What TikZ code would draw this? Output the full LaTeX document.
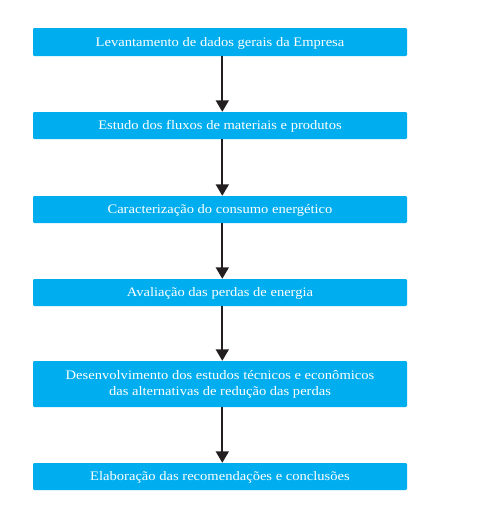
\documentclass[tikz,border=0pt]{standalone}
\usepackage{fontspec}
\setmainfont[FakeStretch=1.12]{Liberation Serif}
\usetikzlibrary{arrows.meta}
\definecolor{boxblue}{HTML}{00AEEF}
\definecolor{arrowgray}{HTML}{231F20}
\begin{document}
\begin{tikzpicture}[x=1pt,y=-1pt,
  stepbox/.style={fill=boxblue, draw=none, rounded corners=1.2pt, minimum width=374pt, text=white, align=center, font=\fontsize{13}{16}\selectfont, inner sep=0pt},
  oneline/.style={stepbox, text height=8.6pt, text depth=0pt},
  flow/.style={draw=arrowgray, line width=1.8pt, -{Triangle[width=13pt,length=11.5pt]}}]
\useasboundingbox (0,0) rectangle (485,506);
\node[oneline, minimum height=28pt] (b1) at (220,42) {Levantamento de dados gerais da Empresa};
\node[oneline, minimum height=27pt] (b2) at (220,125.5) {Estudo dos fluxos de materiais e produtos};
\node[oneline, minimum height=27pt] (b3) at (220,209.5) {Caracterização do consumo energético};
\node[oneline, minimum height=27pt] (b4) at (220,292.5) {Avaliação das perdas de energia};
\node[stepbox, minimum height=46pt] (b5) at (220,384) {Desenvolvimento dos estudos técnicos e econômicos\\das alternativas de redução das perdas};
\node[oneline, minimum height=27pt] (b6) at (220,476.5) {Elaboração das recomendações e conclusões};
\coordinate (ax) at (222.3,0);
\draw[flow] (b1.south -| ax) -- (b2.north -| ax);
\draw[flow] (b2.south -| ax) -- (b3.north -| ax);
\draw[flow] (b3.south -| ax) -- (b4.north -| ax);
\draw[flow] (b4.south -| ax) -- (b5.north -| ax);
\draw[flow] (b5.south -| ax) -- (b6.north -| ax);
\end{tikzpicture}
\end{document}
